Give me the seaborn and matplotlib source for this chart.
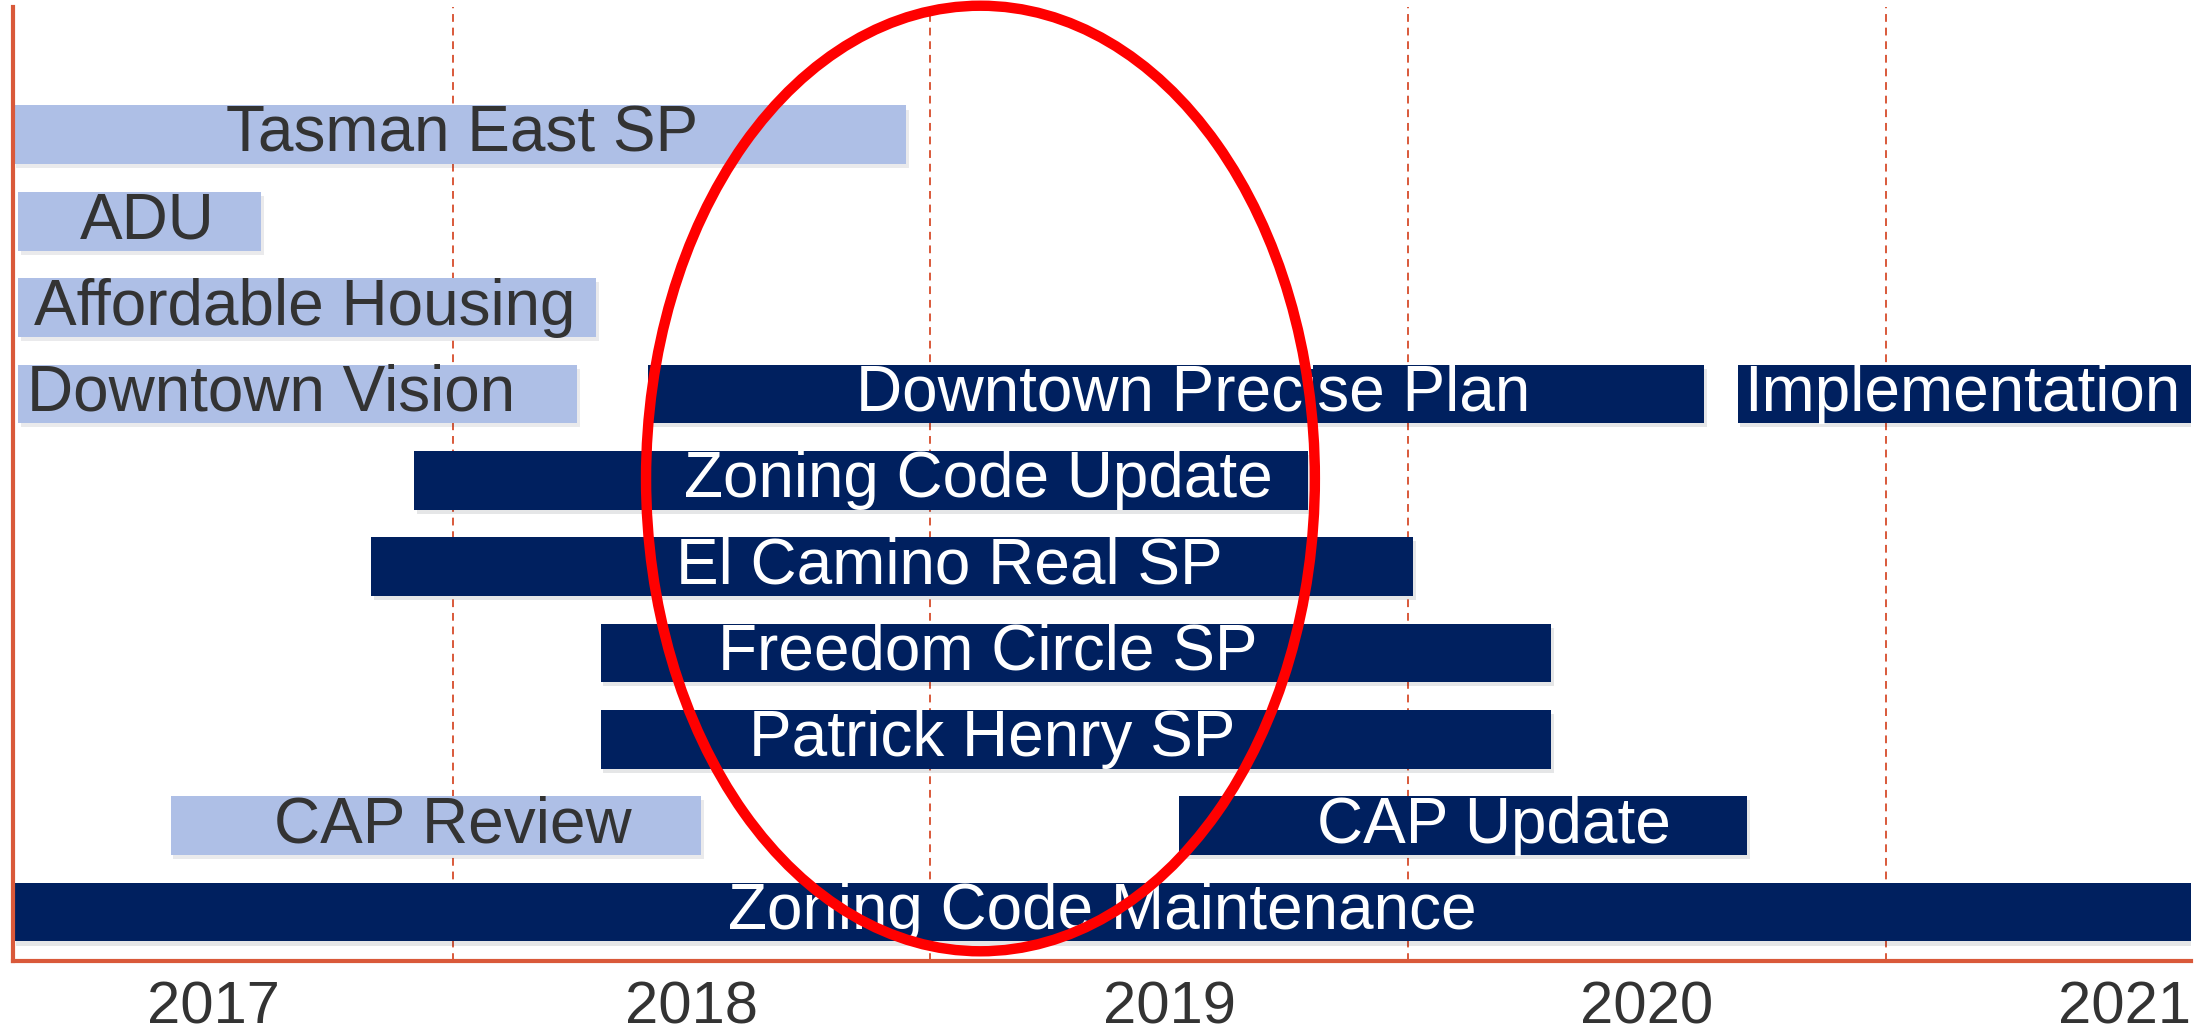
import numpy as np
import pandas as pd
import matplotlib.pyplot as plt
import matplotlib.patheffects as pe
from matplotlib.patches import Ellipse
import seaborn as sns

# planning timeline - tasks, lanes, start/end (decimal years)
tasks = ['Tasman East SP', 'ADU', 'Affordable Housing', 'Downtown Vision',
         'Downtown Precise Plan', 'Implementation', 'Zoning Code Update',
         'El Camino Real SP', 'Freedom Circle SP', 'Patrick Henry SP',
         'CAP Review', 'CAP Update', 'Zoning Code Maintenance']
lane = [0, 1, 2, 3, 3, 3, 4, 5, 6, 7, 8, 8, 9]
start = [2016.58, 2016.59, 2016.59, 2016.59, 2017.91, 2020.19, 2017.42,
         2017.33, 2017.81, 2017.81, 2016.91, 2019.02, 2016.58]
end = [2018.45, 2017.10, 2017.80, 2017.76, 2020.12, 2021.14, 2019.29,
       2019.51, 2019.80, 2019.80, 2018.02, 2020.21, 2021.14]
label_at = [2017.52, 2016.86, 2017.19, 2017.12, 2019.05, 2020.66, 2018.60,
            2018.54, 2018.62, 2018.63, 2017.50, 2019.68, 2018.86]
status = ['done', 'done', 'done', 'done', 'active', 'active', 'active',
          'active', 'active', 'active', 'done', 'active', 'active']
years = [2017, 2018, 2019, 2020, 2021]

df = pd.DataFrame({'task': tasks, 'lane': lane, 'start': start, 'end': end,
                   'label_at': label_at, 'status': status})
df['dur'] = df['end'] - df['start']

sns.set_style('white')
plt.rcParams['font.family'] = ['Liberation Sans', 'DejaVu Sans']

bar_col = {'done': '#AEBFE6', 'active': '#00205F'}
txt_col = {'done': '#333333', 'active': 'white'}
axis_col = '#D9593A'

fig = plt.figure(figsize=(22.06, 10.33), dpi=100)
ax = fig.add_axes([0.0057, 0.0695, 0.9873, 0.9237])

# half-year dashed guides
for y in years[:-1]:
    ax.axvline(y + 0.5, color=axis_col, lw=1.4, ls=(0, (4, 3)), zorder=0)

shadow = [pe.SimplePatchShadow(offset=(2, -3), alpha=0.10), pe.Normal()]
for _, r in df.iterrows():
    ax.barh(r['lane'], r['dur'], left=r['start'], height=0.68,
            color=bar_col[r['status']], linewidth=0, zorder=2,
            path_effects=shadow)
    ax.text(r['label_at'], r['lane'], r['task'], ha='center', va='center',
            fontsize=46, color=txt_col[r['status']], zorder=3)

# red highlight ellipse
ell = Ellipse((2018.605, 3.98), width=1.40, height=10.95, fill=False,
              edgecolor='#FF0000', lw=7.5, zorder=5, clip_on=False)
ax.add_patch(ell)

ax.set_xlim(2016.579, 2021.138)
ax.set_ylim(9.57, -1.48)
ax.set_xticks(years)
ax.set_xticklabels([str(y) for y in years], fontsize=43, color='#333333')
ax.tick_params(axis='x', length=0, pad=14)
ax.set_yticks([])
ax.set_xlabel('')
ax.set_ylabel('')

sns.despine(ax=ax, top=True, right=True)
for s in ['left', 'bottom']:
    ax.spines[s].set_color(axis_col)
    ax.spines[s].set_linewidth(3)

fig.savefig('out.png', dpi=100)
